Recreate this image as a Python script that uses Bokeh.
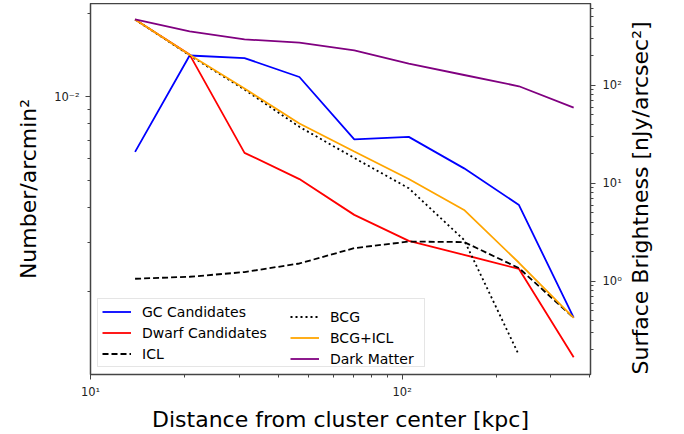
import math
from bokeh.plotting import figure
from bokeh.models import (Range1d, LogScale, LogAxis, FixedTicker,
                          CustomJSTickFormatter, Legend, LegendItem)
from bokeh.embed import file_html
from bokeh.resources import INLINE

# ---- data ----
dist_kpc = [13.9, 20.8, 31.2, 46.8, 70.2, 105, 158, 237, 355]
dist_bcg = [13.9, 20.8, 31.2, 46.8, 70.2, 105, 158, 237]

gc_candidates = [6.35e-3, 1.41e-2, 1.38e-2, 1.18e-2, 7.04e-3, 7.19e-3, 5.54e-3, 4.09e-3, 1.61e-3]
dwarf_candidates = [1.90e-2, 1.42e-2, 6.30e-3, 5.07e-3, 3.77e-3, 3.04e-3, 2.71e-3, 2.41e-3, 1.16e-3]

icl = [1.065, 1.116, 1.246, 1.524, 2.186, 2.55, 2.52, 1.368, 0.425]
bcg = [468, 201.8, 90.4, 37.7, 18.15, 8.91, 2.65, 0.177]
bcg_icl = [469, 205, 92.6, 40.8, 21.1, 11.07, 5.36, 1.55, 0.425]
dark_matter = [469, 354, 293.6, 271.8, 227, 166.2, 127.3, 97.7, 59.3]

x_major = [10, 100, 1000]
x_minor = [20, 30, 40, 50, 60, 70, 80, 90, 200, 300, 400]
yl_major = [0.01]
yl_minor = [0.002, 0.003, 0.004, 0.005, 0.006, 0.007, 0.008, 0.009, 0.02]
yr_major = [1, 10, 100]
yr_minor = [0.2, 0.3, 0.4, 0.5, 0.6, 0.7, 0.8, 0.9,
            2, 3, 4, 5, 6, 7, 8, 9,
            20, 30, 40, 50, 60, 70, 80, 90,
            200, 300, 400, 500, 600]

FONT = "DejaVu Sans"

fmt_code = """
const e = Math.round(Math.log10(tick));
const sup = {'-':'\u207b','0':'\u2070','1':'\u00b9','2':'\u00b2','3':'\u00b3','4':'\u2074','5':'\u2075','6':'\u2076','7':'\u2077','8':'\u2078','9':'\u2079'};
return '10' + String(e).split('').map(c => sup[c]).join('');
"""

p = figure(width=684, height=431, x_axis_type="log", y_axis_type="log",
           x_range=Range1d(10, 402), y_range=Range1d(1.006e-3, 2.168e-2),
           output_backend="svg", toolbar_location=None,
           min_border_left=90, min_border_right=94, min_border_top=0,
           min_border_bottom=59, margin=(3, 0, 0, 0))

p.extra_y_ranges = {"sb": Range1d(0.1125, 682)}
p.extra_y_scales = {"sb": LogScale()}

p.xgrid.visible = False
p.ygrid.visible = False
p.outline_line_color = "#444444"
p.outline_line_width = 1.5
p.background_fill_color = "white"
p.border_fill_color = "white"


def style_axis(ax, major, minor, label):
    ax.ticker = FixedTicker(ticks=major, minor_ticks=minor)
    ax.formatter = CustomJSTickFormatter(code=fmt_code)
    ax.axis_label = label
    ax.axis_label_text_font = FONT
    ax.axis_label_text_font_size = "22px"
    ax.axis_label_text_font_style = "normal"
    ax.axis_label_text_color = "black"
    ax.major_label_text_font = FONT
    ax.major_label_text_font_size = "11.5px"
    ax.major_label_text_color = "#222222"
    ax.axis_line_color = "#444444"
    ax.major_tick_line_color = "#444444"
    ax.minor_tick_line_color = "#444444"
    ax.major_tick_in = 0
    ax.major_tick_out = 5
    ax.minor_tick_in = 0
    ax.minor_tick_out = 3


style_axis(p.xaxis[0], x_major, x_minor, "Distance from cluster center [kpc]")
p.xaxis[0].major_label_standoff = 5
p.xaxis[0].axis_label_standoff = 5

style_axis(p.yaxis[0], yl_major, yl_minor, "Number/arcmin\u00b2")
p.yaxis[0].major_label_standoff = 6
p.yaxis[0].axis_label_standoff = 10

right = LogAxis(y_range_name="sb")
style_axis(right, yr_major, yr_minor, "Surface Brightness [nJy/arcsec\u00b2]")
right.major_label_standoff = 7
right.axis_label_standoff = 16
try:
    right.axis_label_align = "start"
    right.axis_label_orientation = math.pi / 2
except Exception:
    pass
p.add_layout(right, "right")

LW = 1.8
r_gc = p.line(dist_kpc, gc_candidates, line_color="#0000ff", line_width=LW)
r_dw = p.line(dist_kpc, dwarf_candidates, line_color="#ff0000", line_width=LW)
r_icl = p.line(dist_kpc, icl, line_color="black", line_width=LW, line_dash="6 3",
               y_range_name="sb")
r_bcg = p.line(dist_bcg, bcg, line_color="black", line_width=LW, line_dash="2 3",
               y_range_name="sb")
r_bi = p.line(dist_kpc, bcg_icl, line_color="#ffa500", line_width=LW, y_range_name="sb")
r_dm = p.line(dist_kpc, dark_matter, line_color="#800080", line_width=LW, y_range_name="sb")


def make_legend(items, loc, boxed):
    lg = Legend(items=items, location=loc, orientation="vertical")
    lg.label_text_font = FONT
    lg.label_text_font_size = "14px"
    lg.label_text_color = "black"
    lg.glyph_width = 29
    lg.glyph_height = 17
    lg.label_height = 17
    lg.label_standoff = 11
    lg.spacing = 4
    lg.padding = 4
    lg.margin = 0
    if boxed:
        lg.label_width = 278
        lg.border_line_color = "#cccccc"
        lg.border_line_width = 1
        lg.background_fill_color = "white"
        lg.background_fill_alpha = 0.8
    else:
        lg.border_line_color = None
        lg.background_fill_alpha = 0
    return lg


leg1 = make_legend([LegendItem(label="GC Candidates", renderers=[r_gc]),
                    LegendItem(label="Dwarf Candidates", renderers=[r_dw]),
                    LegendItem(label="ICL", renderers=[r_icl])], (7, 7), True)
leg2 = make_legend([LegendItem(label="BCG", renderers=[r_bcg]),
                    LegendItem(label="BCG+ICL", renderers=[r_bi]),
                    LegendItem(label="Dark Matter", renderers=[r_dm])], (200, 7), False)
p.add_layout(leg1, "center")
p.add_layout(leg2, "center")

open("out.html", "w").write(file_html(p, INLINE))
